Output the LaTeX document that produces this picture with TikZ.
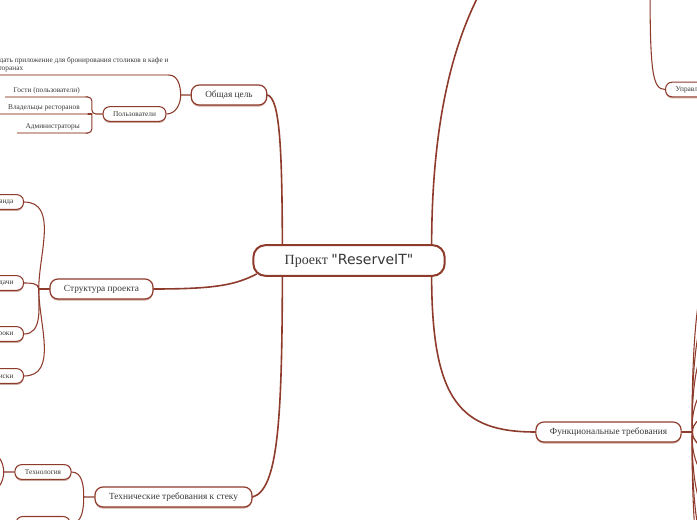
\documentclass[tikz,border=0pt]{standalone}
\usepackage{fontspec}
\setmainfont{Liberation Serif}
\newfontfamily\rsans{DejaVu Sans}
\usetikzlibrary{shadows,positioning}
\definecolor{mmline}{RGB}{142,59,44}
\definecolor{mmpale}{RGB}{206,170,161}
\definecolor{mmtext}{RGB}{55,55,55}
\tikzset{
  topic/.style={draw=mmline, line width=1.5pt, fill=white, rounded corners=9pt,
    minimum height=23pt, inner xsep=23.5pt, text=mmtext, font=\fontsize{10.5}{12}\selectfont},
  mainbox/.style={draw=mmline, line width=0.9pt, fill=white, rounded corners=6pt,
    minimum height=15pt, inner xsep=10.5pt, inner ysep=0pt, text=mmtext,
    font=\fontsize{7}{8}\selectfont,
    drop shadow={shadow xshift=0pt, shadow yshift=-1.2pt, fill=mmpale, opacity=1}},
  subbox/.style={mainbox, line width=0.8pt, rounded corners=5pt, minimum height=11pt,
    inner xsep=7.5pt, font=\fontsize{5.5}{6}\selectfont},
  leaf/.style={inner xsep=6pt, inner ysep=2pt, text=mmtext, font=\fontsize{5.5}{6}\selectfont},
  trunk/.style={draw=mmline, line width=1.2pt, line cap=round},
  twig/.style={draw=mmline, line width=0.8pt, line cap=round},
  under/.style={draw=mmpale, line width=1.6pt},
}
\begin{document}
\begin{tikzpicture}[x=0.75pt,y=-0.75pt]
  \useasboundingbox (0,0) rectangle (697,520);
  \clip (0,0) rectangle (697,520);

  \node[topic] (c) at (349,260.5) {Проект {\rsans"ReserveIT"}};

  \node[mainbox] (goal) at (229,95) {Общая цель};
  \node[mainbox] (struct) at (101.5,289) {Структура проекта};
  \node[mainbox] (tech) at (173.5,497) {Технические требования к стеку};
  \node[mainbox] (func) at (608.5,432) {Функциональные требования};
  \node[mainbox, anchor=west, minimum height=21pt, minimum width=60pt, rounded corners=10pt] (fnode) at (692,432) {};

  \node[subbox] (users) at (134.5,114) {Пользователи};
  \node[subbox, anchor=east] (team) at (24,202) {Команда};
  \node[subbox, anchor=east] (tasks) at (24,283) {Задачи};
  \node[subbox, anchor=east] (dates) at (24,334) {Сроки};
  \node[subbox, anchor=east] (risks) at (24,376) {Риски};
  \node[subbox] (techs) at (43,472) {Технология};
  \node[subbox, anchor=north, minimum width=40.5pt] (stack) at (43,516) {};
  \node[subbox, anchor=west] (manage) at (665,89.5) {Управление};

  \node[leaf, anchor=south west, align=left, inner xsep=0pt] (aim) at (-12,75)
    {Создать приложение для бронирования столиков в кафе и\\ресторанах};
  \node[leaf, anchor=south east] (guests) at (88,97) {Гости (пользователи)};
  \node[leaf, anchor=south east] (owners) at (88,114) {Владельцы ресторанов};
  \node[leaf, anchor=south east] (admins) at (88,133) {Администраторы};

  \coordinate (gstub) at ([xshift=-7.5pt]goal.west);
  \coordinate (ustub) at ([xshift=-8pt]users.west);
  \coordinate (sstub) at ([xshift=-8pt]struct.west);
  \coordinate (tstub) at ([xshift=-8pt]tech.west);
  \coordinate (tlstub) at ([xshift=-8pt]techs.west);
  \coordinate (fstub) at ([xshift=8pt]func.east);
  \coordinate (ptop) at (500,-40);
  \coordinate (pman) at (650,-20);
  \coordinate (tl1) at (-12,452);
  \coordinate (tl2) at (-12,492);

  % main branches
  \draw[trunk] (goal.east) .. controls (280,98) and (282,150) .. ([xshift=22.5pt]c.north west);
  \draw[trunk] (struct.east) .. controls (215,289) and (235,285) .. ([xshift=3pt,yshift=2pt]c.south west);
  \draw[trunk] (tech.east) .. controls (278,490) and (282,420) .. ([xshift=22.5pt]c.south west);
  \draw[trunk] ([xshift=-10.5pt]c.north east) .. controls (432,130) and (450,30) .. (ptop);
  \draw[trunk] ([xshift=-10.5pt]c.south east) .. controls (432,400) and (460,432) .. (func.west);

  \draw[under] (aim.south west) -- (aim.south east);
  \draw[twig] (goal.west) -- (gstub) to[out=90,in=0] (aim.south east);
  \draw[twig] (gstub) to[out=-90,in=0] (users.east);

  \draw[under] (guests.south west) -- (guests.south east);
  \draw[under] (owners.south west) -- (owners.south east);
  \draw[under] (admins.south west) -- (admins.south east);
  \draw[twig, rounded corners=3pt] (users.west) -- (ustub) |- (guests.south east);
  \draw[twig, rounded corners=3pt] (ustub) |- (admins.south east);
  \draw[twig] (ustub) -- (owners.south east);

  \draw[twig] (struct.west) -- (sstub);
  \draw[twig] (sstub) to[out=90,in=0] (team.east);
  \draw[twig] (sstub) to[out=90,in=0] (tasks.east);
  \draw[twig] (sstub) to[out=-90,in=0] (dates.east);
  \draw[twig] (sstub) to[out=-90,in=0] (risks.east);

  \draw[twig] (tech.west) -- (tstub) to[out=90,in=0] (techs.east);
  \draw[twig] (tstub) to[out=-90,in=0] (stack.east);
  \draw[twig] (techs.west) -- (tlstub) to[out=90,in=0] (tl1);
  \draw[twig] (tlstub) to[out=-90,in=0] (tl2);

  \draw[twig] (pman) .. controls (650,70) and (652,89.5) .. (manage.west);

  \draw[twig] (func.east) -- (fnode.west);
  \foreach \ty [count=\i] in {282,318,352,392,472,508,545,585} {
    \coordinate (fk\i) at (706,\ty);
    \draw[twig] (fstub) .. controls (691,{432+0.3*(\ty-432)}) and (695,\ty) .. (fk\i);
  }
\end{tikzpicture}
\end{document}
